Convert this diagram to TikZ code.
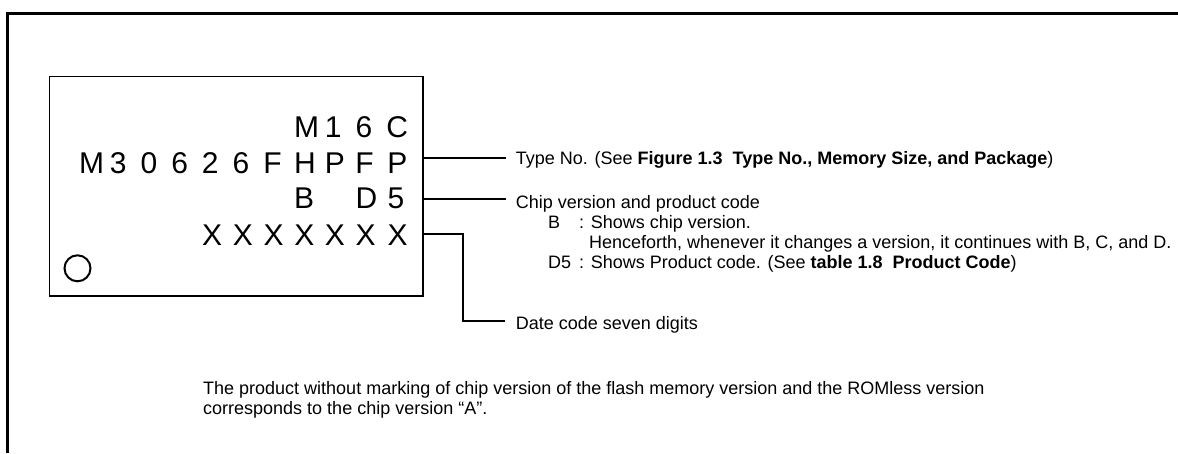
\documentclass[tikz,border=0pt]{standalone}
\usepackage{fontspec}
\setmainfont{Liberation Sans}
\newcommand{\mk}[2][30.7pt]{\makebox[#1][l]{#2}}
\tikzset{
  frameline/.style={line width=2.6pt},
  boxline/.style={line width=1.2pt},
  leader/.style={line width=1.1pt},
  mark row/.style={anchor=base west,inner sep=0pt,font=\fontsize{30}{30}\selectfont},
  note/.style={anchor=base west,inner sep=0pt,font=\fontsize{18}{20}\selectfont}
}
\begin{document}
\begin{tikzpicture}[x=1pt,y=-1pt]
\useasboundingbox (0,0) rectangle (1178,453);
\draw[frameline] (1178,13.7) -- (7.2,13.7) -- (7.2,453);
\node[draw,boxline,minimum width=373.5pt,minimum height=219.5pt,inner sep=0pt] (chip) at (236.2,186.2) {};
\node[draw,line width=2pt,circle,minimum size=26pt,inner sep=0pt] (dot) at (77.5,268.3) {};
\node[mark row] (r1) at (294,137) {\mk{M}\mk{1}\mk{6}\mk{C}};
\node[mark row] (r2) at (79,173) {\mk{M}\mk{3}\mk{0}\mk{6}\mk{2}\mk{6}\mk{F}\mk{H}\mk{P}\mk[32pt]{F}\mk{P}};
\node[mark row] (r3) at (294,208.5) {\mk{B}\mk{}\mk[32pt]{D}\mk{5}};
\node[mark row] (r4) at (202,245) {\mk{X}\mk{X}\mk{X}\mk{X}\mk{X}\mk[32pt]{X}\mk{X}};
\node[note] (t1) at (515.7,164) {Type No. (See \textbf{Figure 1.3\ \ Type No., Memory Size, and Package})};
\node[note] (t2) at (515.7,208) {Chip version and product code};
\node[note] (t3a) at (548,228) {B};
\node[note] (t3b) at (579,228) {: Shows chip version.};
\node[note] (t4) at (589,248) {Henceforth, whenever it changes a version, it continues with B, C, and D.};
\node[note] (t5a) at (548,268) {D5};
\node[note] (t5b) at (579,268) {: Shows Product code. (See \textbf{table 1.8\ \ Product Code})};
\node[note] (t6) at (515.7,329) {Date code seven digits};
\node[note] (t7) at (203,394) {The product without marking of chip version of the flash memory version and the ROMless version};
\node[note] (t8) at (203,414) {corresponds to the chip version “A”.};
\coordinate (e1) at (505.7,158);
\coordinate (e2) at (505.7,199);
\coordinate (b3) at (463,234);
\coordinate (c3) at (463,321);
\coordinate (e3) at (504.5,321);
\draw[leader] (chip.east |- e1) -- (e1);
\draw[leader] (chip.east |- e2) -- (e2);
\draw[leader] (chip.east |- b3) -- (b3) -- (c3) -- (e3);
\end{tikzpicture}
\end{document}
